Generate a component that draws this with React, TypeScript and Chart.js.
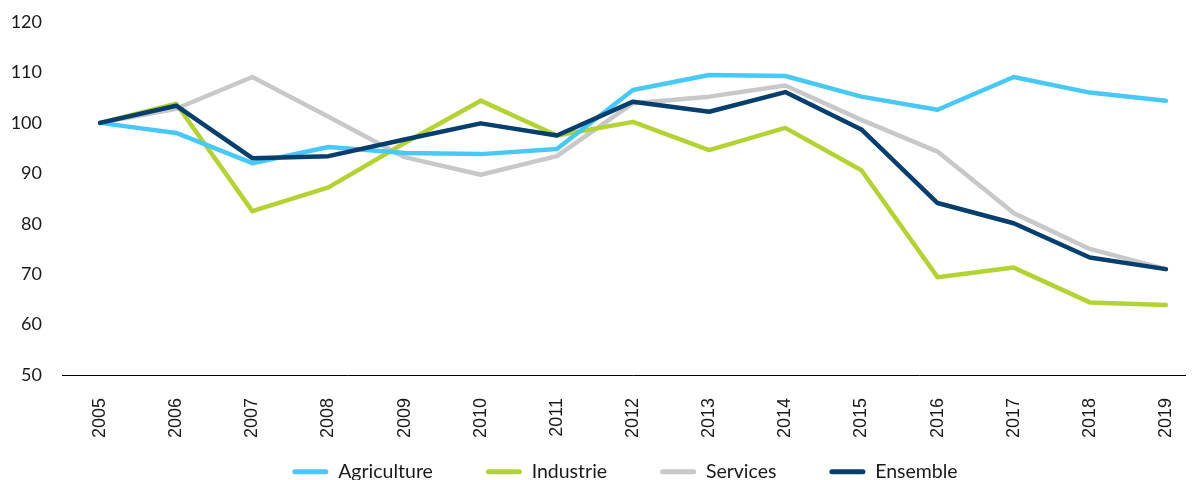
import React, { useEffect, useRef } from "react";
import { Chart, registerables } from "chart.js";

Chart.register(...registerables);

const years = ["2005","2006","2007","2008","2009","2010","2011","2012","2013","2014","2015","2016","2017","2018","2019"];
const agriculture = [100, 98, 92, 95.2, 94, 93.8, 94.8, 106.5, 109.5, 109.3, 105.2, 102.6, 109.1, 106, 104.4];
const industrie = [100, 103.8, 82.5, 87.2, 96, 104.4, 97.5, 100.2, 94.6, 99, 90.6, 69.4, 71.3, 64.4, 63.9];
const services = [100, 102.8, 109.1, 101.2, 93.2, 89.7, 93.4, 103.9, 105.2, 107.4, 100.6, 94.3, 82.1, 75, 71];
const ensemble = [100, 103.4, 93, 93.4, 96.7, 99.9, 97.5, 104.2, 102.2, 106.1, 98.7, 84.1, 80.1, 73.3, 71];
const seriesNames = ["Agriculture", "Industrie", "Services", "Ensemble"];
const seriesColors = ["#48C9F5", "#B3D334", "#C8C8CA", "#063F6E"];
const seriesOrder = [2, 3, 4, 1];

export default function App() {
  const ref = useRef<HTMLCanvasElement | null>(null);
  useEffect(() => {
    if (!ref.current) return;
    const values = [agriculture, industrie, services, ensemble];
    const chart = new Chart(ref.current, {
      type: "line",
      data: {
        labels: years,
        datasets: values.map((v, i) => ({
          label: seriesNames[i],
          data: v,
          borderColor: seriesColors[i],
          backgroundColor: seriesColors[i],
          borderWidth: 4.5,
          pointRadius: 0,
          tension: 0,
          borderCapStyle: "round",
          borderJoinStyle: "round",
          order: seriesOrder[i],
        })),
      },
      options: {
        animation: false,
        responsive: false,
        maintainAspectRatio: false,
        layout: { padding: { top: 14, left: 38, right: 38, bottom: 0 } },
        plugins: {
          tooltip: { enabled: false },
          legend: {
            position: "bottom",
            maxHeight: 71,
            labels: {
              boxWidth: 36,
              boxHeight: 5,
              padding: 53,
              color: "#1a1a1a",
              font: { family: "Lato", size: 19.5 },
              useBorderRadius: true,
              borderRadius: 2.5,
              sort: (a: any, b: any) => a.datasetIndex - b.datasetIndex,
              generateLabels: (c: any) => {
                const items = Chart.defaults.plugins.legend.labels.generateLabels(c);
                return items.map((it: any) => ({ ...it, lineWidth: 0 }));
              },
            },
          },
        },
        scales: {
          x: {
            offset: true,
            grid: { display: false, drawTicks: false },
            border: { display: true, color: "#000", width: 1 },
            ticks: {
              minRotation: 90,
              maxRotation: 90,
              padding: 23,
              color: "#1a1a1a",
              font: { family: "Liberation Sans", size: 18 },
            },
            afterFit: (s: any) => {
              s.height = 34;
              s._computeLabelArea = () => undefined;
            },
          },
          y: {
            min: 50,
            max: 120,
            grid: { display: false, drawTicks: true, tickLength: 17 },
            border: { display: false },
            ticks: {
              stepSize: 10,
              padding: 3,
              color: "#1a1a1a",
              font: { family: "Lato", size: 18 },
            },
            afterFit: (s: any) => {
              s.width = 16;
              s._computeLabelArea = () => undefined;
            },
          },
        },
      },
    });
    return () => chart.destroy();
  }, []);
  return (
    <div style={{ width: 1186, height: 472, overflow: "hidden" }}>
      <canvas ref={ref} width={1234} height={472} style={{ width: 1234, height: 472, display: "block" }} />
    </div>
  );
}
